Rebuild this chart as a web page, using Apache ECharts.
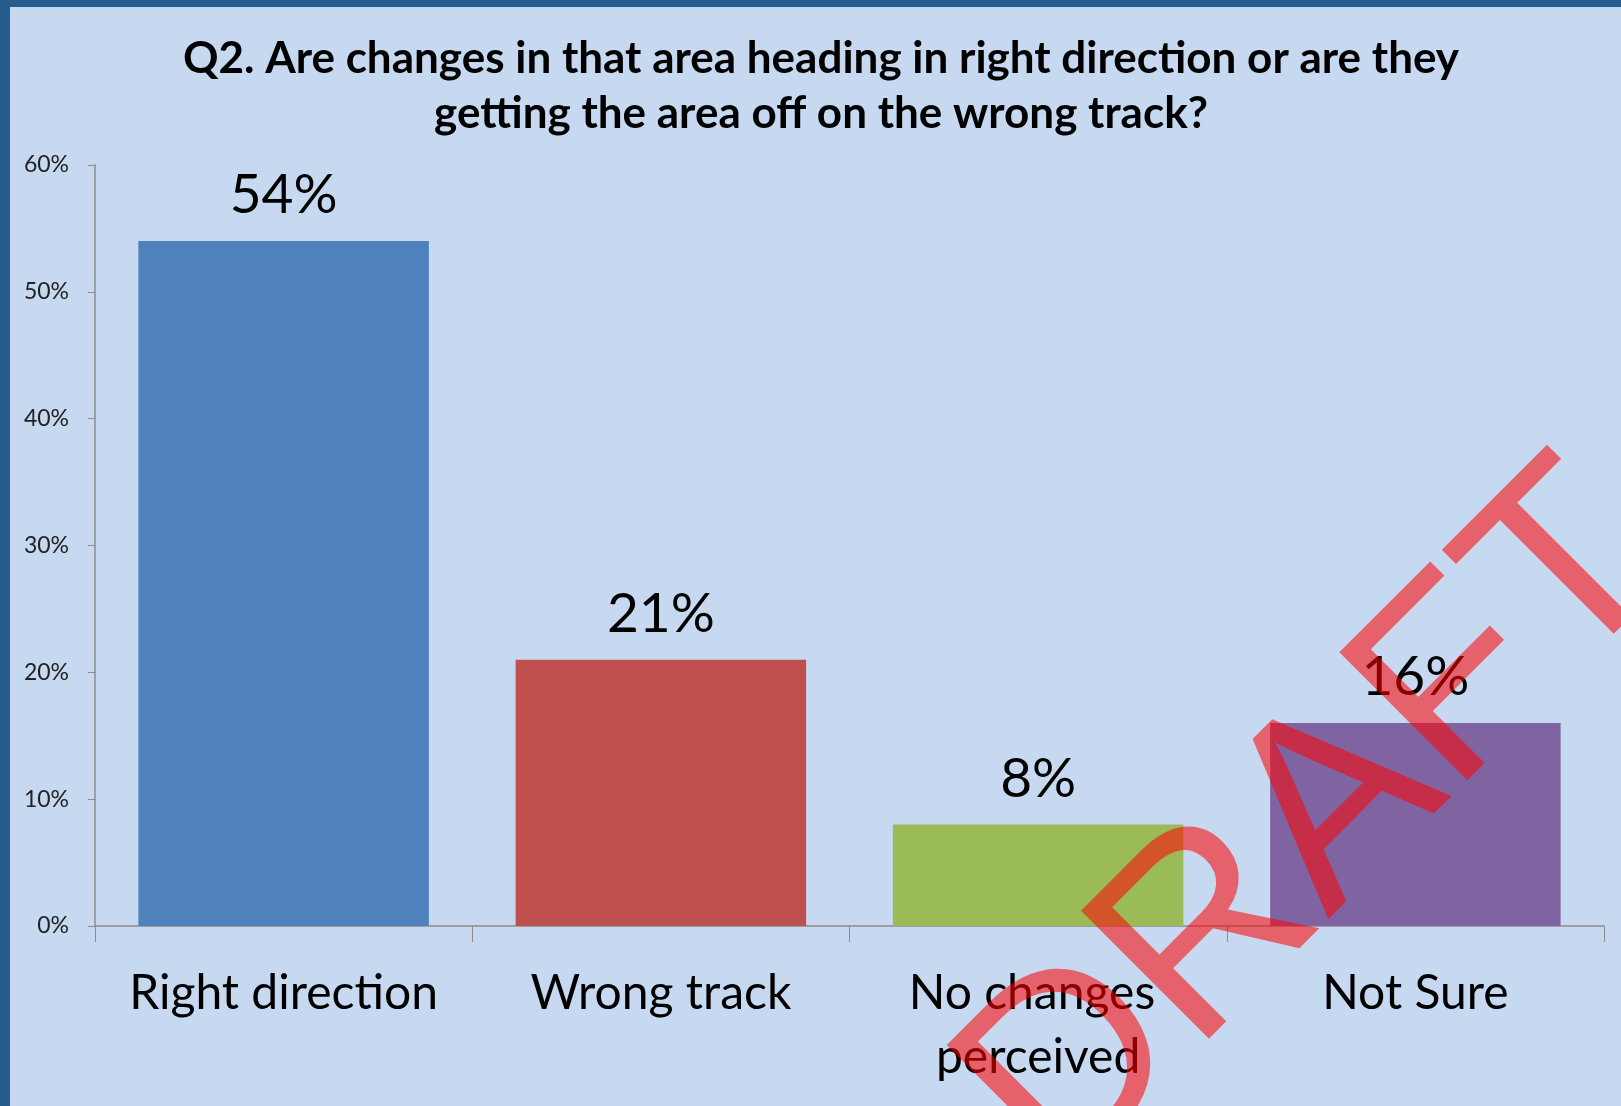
<!DOCTYPE html>
<html>
<head>
<meta charset="utf-8">
<title>Q2 right direction / wrong track</title>
<script src="https://cdn.jsdelivr.net/npm/echarts@6.0.0/dist/echarts.min.js"></script>
<style>
  * { margin: 0; }
  body { background: #285C8F; width: 1621px; height: 1106px; overflow: hidden; }
  #main { position: absolute; left: 10px; top: 7px; width: 1611px; height: 1099px; }
</style>
</head>
<body>
<div id="main"></div>
<script>
// data
var categories = ['Right direction', 'Wrong track', 'No changes perceived', 'Not Sure'];
var values = [54, 21, 8, 16];
var barColors = ['#4F81BD', '#C0504D', '#9BBB59', '#8064A2'];
var yTicks = { min: 0, max: 60, interval: 10 };

var chart = echarts.init(document.getElementById('main'));

chart.setOption({
  backgroundColor: '#C6D9F1',
  animation: false,
  title: {
    text: 'Q2. Are changes in that area heading in right direction or are they\ngetting the area off on the wrong track?',
    left: 806,
    top: 19,
    textAlign: 'center',
    textStyle: {
      fontFamily: 'Lato',
      fontWeight: 'bold',
      fontSize: 44,
      lineHeight: 55,
      color: '#000'
    }
  },
  grid: { left: 85, right: 17, top: 158, bottom: 180, containLabel: false },
  xAxis: {
    type: 'category',
    data: categories,
    axisLine: { lineStyle: { color: '#8C8C8C', width: 1.5 } },
    axisTick: { show: true, alignWithLabel: false, length: 16, lineStyle: { color: '#8C8C8C' } },
    axisLabel: {
      interval: 0,
      margin: 36,
      fontFamily: 'Lato',
      fontSize: 48,
      lineHeight: 64,
      color: '#000',
      width: 340,
      overflow: 'break'
    }
  },
  yAxis: {
    type: 'value',
    min: yTicks.min,
    max: yTicks.max,
    interval: yTicks.interval,
    splitLine: { show: false },
    axisLine: { show: true, lineStyle: { color: '#8C8C8C', width: 1.5 } },
    axisTick: { show: true, length: 7, lineStyle: { color: '#8C8C8C' } },
    axisLabel: {
      formatter: '{value}%',
      margin: 26,
      fontFamily: 'Lato',
      fontSize: 23,
      color: '#222'
    }
  },
  series: [{
    type: 'bar',
    barCategoryGap: '23%',
    data: values.map(function (v, i) {
      return { value: v, itemStyle: { color: barColors[i] } };
    }),
    label: {
      show: true,
      position: 'top',
      distance: 18,
      formatter: '{c}%',
      fontFamily: 'Lato',
      fontSize: 55,
      color: '#000'
    }
  }],
  graphic: [{
    type: 'text',
    z: 100,
    x: 1308,
    y: 820,
    rotation: Math.PI / 4,
    silent: true,
    style: {
      text: 'DRAFT',
      fontFamily: 'Liberation Sans',
      fontSize: 263,
      fill: 'rgba(255, 0, 0, 0.55)',
      textAlign: 'center',
      textVerticalAlign: 'middle'
    }
  }]
});
</script>
</body>
</html>
